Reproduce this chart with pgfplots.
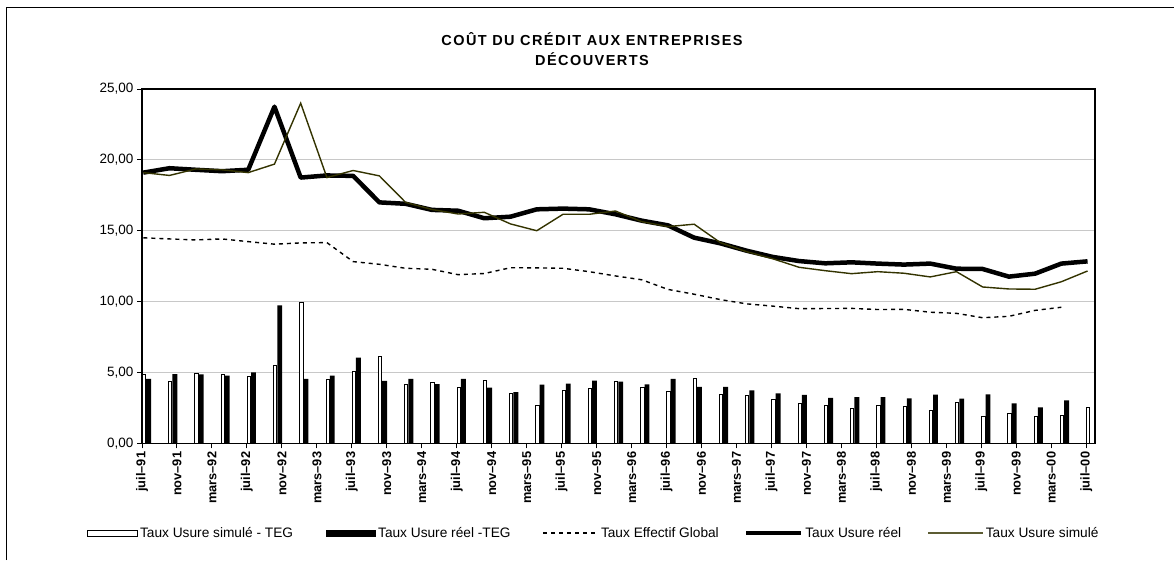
\documentclass[border=0pt]{standalone}
\usepackage{fontspec}
\setmainfont{Liberation Sans}
\newfontfamily\titlefont[LetterSpace=10]{Liberation Sans}
\usepackage{pgfplots}
\usepackage{pgfplotstable}
\pgfplotsset{compat=1.18}
\definecolor{olivel}{RGB}{51,51,0}
\definecolor{gridc}{RGB}{200,200,200}

\pgfplotstableread{
i simteg reelteg teg reel sim
0 4.87 4.54 14.50 19.10 19.10
1 4.35 4.89 14.42 19.41 18.90
2 4.91 4.87 14.35 19.30 19.36
3 4.89 4.77 14.42 19.20 19.30
4 4.70 5.01 14.23 19.30 19.10
5 5.50 9.74 14.05 23.75 19.70
6 9.92 4.54 14.14 18.75 24.00
7 4.54 4.77 14.16 18.90 18.75
8 5.10 6.04 12.82 18.87 19.25
9 6.11 4.40 12.63 17.00 18.87
10 4.18 4.54 12.35 16.90 17.00
11 4.29 4.18 12.28 16.47 16.50
12 3.92 4.54 11.90 16.41 16.18
13 4.42 3.92 11.98 15.88 16.30
14 3.50 3.62 12.39 15.99 15.48
15 2.65 4.14 12.38 16.51 15.00
16 3.74 4.21 12.35 16.56 16.16
17 3.85 4.42 12.11 16.51 16.16
18 4.35 4.35 11.81 16.16 16.39
19 3.97 4.16 11.54 15.71 15.64
20 3.64 4.54 10.86 15.38 15.29
21 4.56 3.99 10.52 14.51 15.46
22 3.46 3.99 10.14 14.11 14.16
23 3.36 3.74 9.84 13.59 13.52
24 3.10 3.52 9.68 13.15 13.02
25 2.80 3.41 9.50 12.86 12.42
26 2.68 3.20 9.51 12.70 12.18
27 2.44 3.25 9.52 12.77 11.97
28 2.68 3.25 9.44 12.68 12.11
29 2.58 3.17 9.45 12.61 12.00
30 2.33 3.43 9.25 12.68 11.74
31 2.91 3.15 9.17 12.32 12.11
32 1.90 3.46 8.86 12.30 11.03
33 2.09 2.82 8.96 11.76 10.89
34 1.93 2.54 9.38 11.97 10.87
35 1.98 3.03 9.60 12.68 11.40
36 2.54 nan nan 12.84 12.16
}\data

\begin{document}
\begin{tikzpicture}
\path[use as bounding box] (0pt,0pt) rectangle (1174pt,560pt);
\draw[line width=1pt] (6pt,0pt) -- (6pt,552pt) -- (1174pt,552pt);
\node[align=center,font=\titlefont\bfseries\fontsize{14.5}{20}\selectfont] at (592pt,511pt) {COÛT DU CRÉDIT AUX ENTREPRISES\\DÉCOUVERTS};
\begin{axis}[
  at={(142pt,116.7pt)}, anchor=south west,
  width=953pt, height=354.3pt, scale only axis,
  xmin=0, xmax=109, ymin=0, ymax=25,
  xtick={0,4,...,108},
  xticklabels={juil--91,nov--91,mars--92,juil--92,nov--92,mars--93,juil--93,nov--93,mars--94,juil--94,nov--94,mars--95,juil--95,nov--95,mars--96,juil--96,nov--96,mars--97,juil--97,nov--97,mars--98,juil--98,nov--98,mars--99,juil--99,nov--99,mars--00,juil--00},
  ytick={0,5,...,25},
  tick pos=left, tick align=outside, major tick length=5pt,
  tick style={black, line width=1pt},
  axis line style={black, line width=1.3pt},
  ymajorgrids, major grid style={gridc, line width=0.9pt},
  xticklabel style={rotate=90, anchor=east, font=\bfseries\fontsize{12.8}{14}\selectfont},
  yticklabel style={font=\fontsize{13.5}{15}\selectfont,
    /pgf/number format/fixed, /pgf/number format/fixed zerofill,
    /pgf/number format/precision=2, /pgf/number format/use comma,
    /pgf/number format/assume math mode=true},
  legend columns=5,
  legend style={at={(-0.0577,-0.2532)}, anchor=west, draw=none, fill=none,
    inner sep=0pt, font=\fontsize{13.7}{16}\selectfont,
    nodes={inner xsep=2pt, inner ysep=1pt},
    /tikz/column 2/.style={column sep=31pt},
    /tikz/column 4/.style={column sep=30pt},
    /tikz/column 6/.style={column sep=23pt},
    /tikz/column 8/.style={column sep=24pt}},
  legend cell align=left,
]
\addplot[ybar, bar width=3.3pt, bar shift=2pt, draw=black, line width=0.9pt, fill=white,
  legend image code/.code={\draw[black,fill=white,line width=0.9pt] (0pt,-3pt) rectangle (50pt,3pt);}]
  table[x expr=3*\thisrow{i}, y=simteg] {\data};
\addlegendentry{Taux Usure simulé - TEG}
\addplot[ybar, bar width=4.9pt, bar shift=6.6pt, draw=none, fill=black,
  legend image code/.code={\fill[black] (0pt,-3.5pt) rectangle (50pt,3.5pt);}]
  table[x expr=3*\thisrow{i}, y=reelteg] {\data};
\addlegendentry{Taux Usure réel -TEG}
\addplot[black, line width=1.4pt, dash pattern=on 4pt off 4pt,
  legend image code/.code={\draw[black, line width=1.4pt, dash pattern=on 4pt off 4pt] (0pt,0pt) -- (55pt,0pt);}]
  table[x expr=3*\thisrow{i}+0.15, y=teg] {\data};
\addlegendentry{Taux Effectif Global}
\addplot[black, line width=4.5pt, line join=round,
  legend image code/.code={\draw[black, line width=4.5pt] (0pt,0pt) -- (55pt,0pt);}]
  table[x expr=3*\thisrow{i}+0.15, y=reel] {\data};
\addlegendentry{Taux Usure réel}
\addplot[olivel, line width=1.4pt,
  legend image code/.code={\draw[olivel!80, line width=1.6pt] (0pt,0pt) -- (55pt,0pt);}]
  table[x expr=3*\thisrow{i}+0.15, y=sim] {\data};
\addlegendentry{Taux Usure simulé}
\end{axis}
\end{tikzpicture}
\end{document}
